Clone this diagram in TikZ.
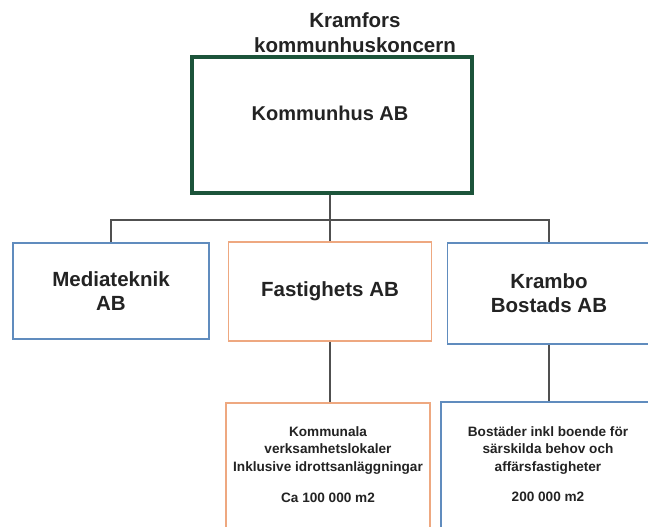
\documentclass[tikz,border=0pt]{standalone}
\usepackage{fontspec}
\setmainfont{Liberation Sans}
\definecolor{kgreen}{RGB}{28,84,58}
\definecolor{kblue}{RGB}{96,140,190}
\definecolor{korange}{RGB}{238,168,128}
\definecolor{kline}{RGB}{80,80,80}
\definecolor{ktext}{RGB}{35,35,35}
\tikzset{
  box/.style={draw, line width=1.6pt, fill=white, inner sep=0pt, align=center, text=ktext, font=\bfseries\fontsize{20.5}{24}\selectfont},
  bluebox/.style={box, draw=kblue},
  orangebox/.style={box, draw=korange},
  smalltext/.style={align=center, text=ktext, inner sep=0pt, font=\bfseries\fontsize{13.6}{17.5}\selectfont},
  conn/.style={draw=kline, line width=1.3pt},
}
\begin{document}
\begin{tikzpicture}[x=1pt,y=-1pt]
\clip (0,0) rectangle (648,527);
\fill[white] (0,0) rectangle (648,527);
% title
\node[align=center, text=ktext, font=\bfseries\fontsize{20.5}{25}\selectfont] (title) at (355,33) {Kramfors\\kommunhuskoncern};
% top box
\node[box, draw=kgreen, line width=3.6pt, minimum width=280pt, minimum height=136pt] (kom) at (332,125) {};
\node[text=ktext, font=\bfseries\fontsize{20}{24}\selectfont, inner sep=0pt] (komtext) at (330,113) {Kommunhus AB};
% second row
\node[bluebox, minimum width=196pt, minimum height=96pt] (media) at (111,291) {Mediateknik\\AB};
\node[orangebox, minimum width=203pt, minimum height=99pt] (fast) at (330,291.5) {Fastighets AB};
\node[bluebox, minimum width=203pt, minimum height=101pt] (krambo) at (549,293.5) {Krambo\\Bostads AB};
% third row
\node[orangebox, minimum width=204pt, minimum height=150pt] (fsub) at (328,478) {};
\node[bluebox, minimum width=214pt, minimum height=150pt] (ksub) at (548,477) {};
\node[smalltext] (ftext) at (328,450.5) {Kommunala\\verksamhetslokaler\\Inklusive idrottsanläggningar};
\node[smalltext] (fm2) at (328,498) {Ca 100 000 m2};
\node[smalltext] (ktext) at (548,450.5) {Bostäder inkl boende för\\särskilda behov och\\affärsfastigheter};
\node[smalltext] (km2) at (548,497) {200 000 m2};
% connectors
\coordinate (busL) at (111,220);
\coordinate (busR) at (549,220);
\draw[conn] (kom.south -| fast.north) -- (fast.north);
\draw[conn] (media.north) -- (busL) -- (busR) -- (krambo.north);
\draw[conn] (fast.south) -- (fsub.north -| fast.south);
\draw[conn] (krambo.south) -- (ksub.north -| krambo.south);
\end{tikzpicture}
\end{document}
